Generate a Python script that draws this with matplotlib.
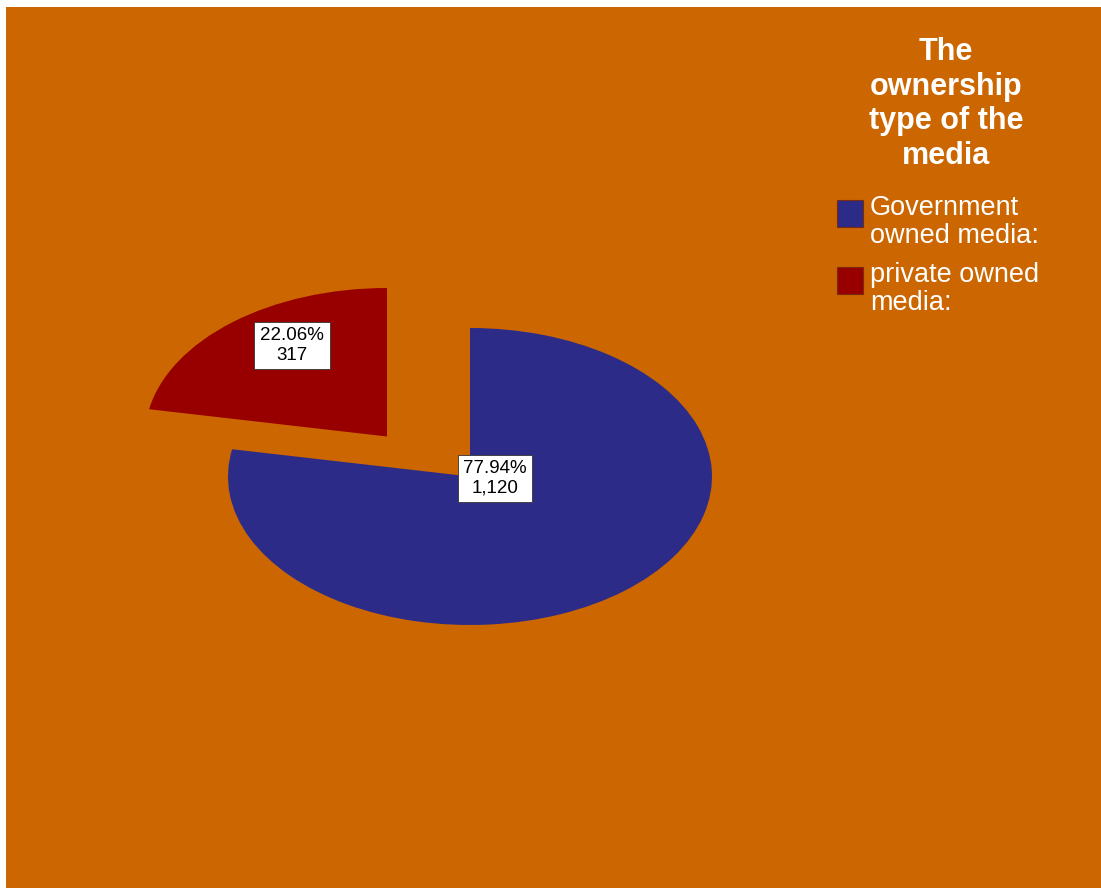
import matplotlib.pyplot as plt
from matplotlib.patches import Rectangle

# Datos
categories = ["Government\nowned media:", "private owned\nmedia:"]
counts = [1120, 317]
colors = ["#2c2c88", "#980000"]
title = "The\nownership\ntype of the\nmedia"

W, H = 1101, 888
fig = plt.figure(figsize=(W / 100, H / 100), dpi=100)
fig.patch.set_facecolor("white")

# Fondo naranja con un borde blanco arriba y a la izquierda
fig.patches.append(Rectangle((6 / W, 0), 1 - 6 / W, 1 - 7 / H, transform=fig.transFigure,
                             facecolor="#cc6600", edgecolor="none", zorder=-10))

# Ejes en los que una unidad = radio horizontal / vertical de la elipse
cx, cy = 470, 476.5
rx, ry = 242, 148.5
ax = fig.add_axes([0, 0, 1, 1])
ax.set_facecolor("none")
wedges, _ = ax.pie(counts, colors=colors, startangle=90, counterclock=False,
                   wedgeprops=dict(linewidth=0))
ax.set_aspect("auto")
ax.set_xlim(-cx / rx, (W - cx) / rx)
ax.set_ylim(-(H - cy) / ry, cy / ry)
ax.axis("off")

# Porcion separada (privada)
wedges[1].set_center((-83 / rx, 40 / ry))

# Etiquetas: desplazamiento (px) respecto al centro de cada porcion
label_off = [(25, -2), (-95, 91)]
total = sum(counts)
for w, n, (dx, dy) in zip(wedges, counts, label_off):
    x0, y0 = w.center
    ax.text(x0 + dx / rx, y0 + dy / ry,
            "%.2f%%\n%s" % (100.0 * n / total, format(n, ",")),
            ha="center", va="center", fontsize=13.5, family="Liberation Sans",
            linespacing=1.2, color="black",
            bbox=dict(boxstyle="square,pad=0.3", facecolor="white",
                      edgecolor="#333333", linewidth=0.6))

# Leyenda
fig.text(946 / W, 1 - 104 / H, title, ha="center", va="center", color="white",
         fontsize=22, fontweight="bold", family="Liberation Sans", linespacing=1.2)
for i, (lab, c) in enumerate(zip(categories, colors)):
    top = 200 + i * 67
    fig.patches.append(Rectangle((837 / W, 1 - (top + 27) / H), 26 / W, 27 / H,
                                 transform=fig.transFigure, facecolor=c,
                                 edgecolor="#7a2a10", linewidth=0.8))
    fig.text(870 / W, 1 - (top - 5) / H, lab, ha="left", va="top", color="white",
             fontsize=19.5, family="Liberation Sans", linespacing=1.1)

plt.savefig("out.png", dpi=100)
plt.close()
